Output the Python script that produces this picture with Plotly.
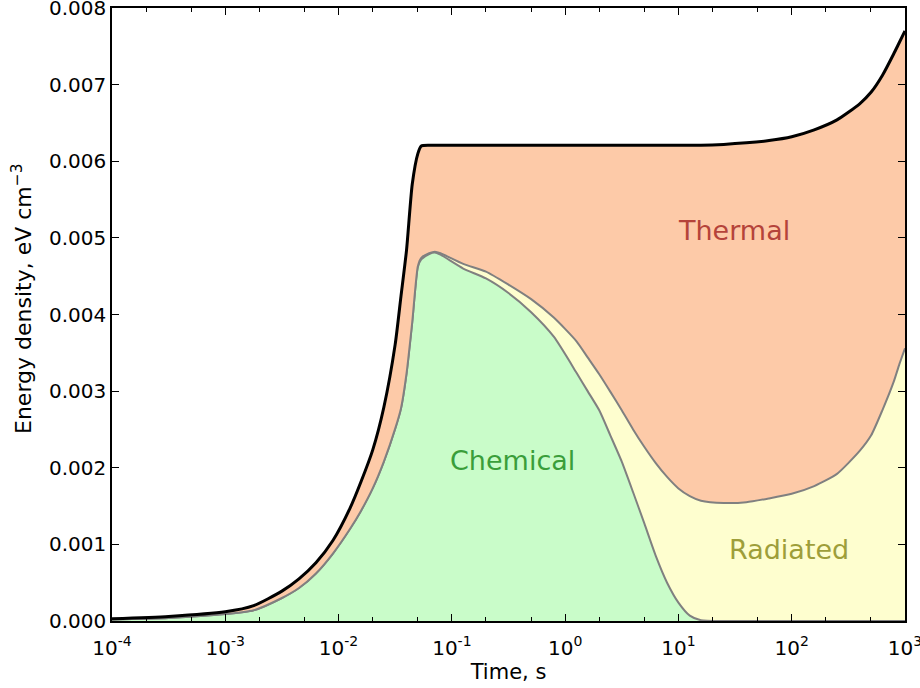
import math
import plotly.graph_objects as go

# time (s)
time_s = [1.0e-4, 3.16e-4, 1.0e-3, 1.78e-3, 3.16e-3, 4.47e-3, 6.31e-3, 8.91e-3,
          0.0126, 0.0158, 0.0200, 0.0251, 0.0316, 0.0355, 0.0398, 0.0447,
          0.0501, 0.0537, 0.0631, 0.0708, 0.0794, 0.126, 0.200, 0.316,
          0.501, 0.794, 1.26, 1.58, 2.00, 2.51, 3.16, 3.98, 5.01, 6.31,
          7.94, 10.0, 12.6, 15.8, 25.1, 39.8, 63.1, 100.0,
          158.0, 251.0, 398.0, 501.0, 631.0, 794.0, 891.0, 1000.0]

chemical = [0.00002, 0.00004, 0.00009, 0.00014, 0.00030, 0.00043, 0.00062, 0.00088,
            0.00120, 0.00144, 0.00173, 0.00208, 0.00251, 0.00277, 0.00323, 0.00390,
            0.00462, 0.00472, 0.00479, 0.00481, 0.00478, 0.00460, 0.00447, 0.00428,
            0.00403, 0.00371, 0.00324, 0.00300, 0.00275, 0.00242, 0.00208, 0.00168, 0.00127, 0.00085,
            0.00050, 0.00024, 0.00007, 0.00001, 0.0, 0.0, 0.0, 0.0,
            0.0, 0.0, 0.0, 0.0, 0.0, 0.0, 0.0, 0.0]

radiated = [0.0, 0.0, 0.0, 0.0, 0.0, 0.0, 0.0, 0.0,
            0.0, 0.0, 0.0, 0.0, 0.0, 0.0, 0.0, 0.0,
            0.00001, 0.00002, 0.00001, 0.00001, 0.00002, 0.00006, 0.00009, 0.00011,
            0.00017, 0.00025, 0.00041, 0.00044, 0.00047, 0.00057, 0.00067, 0.00082, 0.00100, 0.00121,
            0.00138, 0.00149, 0.00156, 0.00156, 0.00154, 0.00155, 0.00160, 0.00166,
            0.00176, 0.00192, 0.00222, 0.00242, 0.00275, 0.00312, 0.00335, 0.00356]

thermal = [0.00001, 0.00002, 0.00003, 0.00006, 0.00009, 0.00012, 0.00014, 0.00017,
           0.00027, 0.00038, 0.00050, 0.00071, 0.00110, 0.00146, 0.00161, 0.00180,
           0.00147, 0.00146, 0.00141, 0.00139, 0.00141, 0.00155, 0.00165, 0.00182,
           0.00201, 0.00225, 0.00256, 0.00277, 0.00299, 0.00322, 0.00346, 0.00371, 0.00394, 0.00415,
           0.00433, 0.00448, 0.00458, 0.00464, 0.00468, 0.00469, 0.00467, 0.00466,
           0.00465, 0.00462, 0.00453, 0.00448, 0.00437, 0.00428, 0.00420, 0.00414]

x_tickvals = [1e-4, 1e-3, 1e-2, 1e-1, 1e0, 1e1, 1e2, 1e3]
x_ticktext = ["10<sup>-4</sup>", "10<sup>-3</sup>", "10<sup>-2</sup>", "10<sup>-1</sup>",
              "10<sup>0</sup>", "10<sup>1</sup>", "10<sup>2</sup>", "10<sup>3</sup>"]
y_tickvals = [0.000, 0.001, 0.002, 0.003, 0.004, 0.005, 0.006, 0.007, 0.008]

labels = ["Thermal", "Chemical", "Radiated"]
label_x = [31.0, 0.34, 94.0]
label_y = [0.0051, 0.0021, 0.00093]
label_colors = ["#b5433a", "#3a9e3a", "#9e9e3a"]

FONT = "DejaVu Sans"

fig = go.Figure()
fig.add_trace(go.Scatter(x=time_s, y=chemical, stackgroup="e", mode="lines",
                         line=dict(color="#808080", width=2, shape="spline", smoothing=0.6),
                         fillcolor="#c9fcc9", name="Chemical"))
fig.add_trace(go.Scatter(x=time_s, y=radiated, stackgroup="e", mode="lines",
                         line=dict(color="#808080", width=2, shape="spline", smoothing=0.6),
                         fillcolor="#fefecf", name="Radiated"))
fig.add_trace(go.Scatter(x=time_s, y=thermal, stackgroup="e", mode="lines",
                         line=dict(color="black", width=3, shape="spline", smoothing=0.6),
                         fillcolor="#fdcaa8", name="Thermal"))

for t, lx, ly, c in zip(labels, label_x, label_y, label_colors):
    fig.add_annotation(x=math.log10(lx), y=ly, text=t, showarrow=False,
                       font=dict(family=FONT, size=27, color=c))

# y-axis title as a rotated annotation (placed like the reference)
fig.add_annotation(xref="paper", yref="paper", x=(22 - 112) / 793, y=(621 - 299) / 613,
                   text="Energy density, eV cm<sup>\u22123</sup>", textangle=-90,
                   showarrow=False, xanchor="center", yanchor="middle",
                   font=dict(family=FONT, size=22, color="black"))

fig.update_layout(
    width=920, height=688,
    margin=dict(l=112, r=15, t=8, b=67),
    paper_bgcolor="white", plot_bgcolor="white",
    showlegend=False,
    font=dict(family=FONT, size=20, color="black"),
)
fig.update_xaxes(type="log", range=[-4, 3], tickvals=x_tickvals, ticktext=x_ticktext,
                 ticks="inside", ticklen=7, tickwidth=1, tickcolor="black",
                 mirror="allticks", showline=True, linecolor="black", linewidth=1.5,
                 showgrid=False, zeroline=False, automargin=False,
                 ticklabeloverflow="allow", ticklabelstandoff=8,
                 minor=dict(ticks="inside", ticklen=4, tickcolor="black", showgrid=False),
                 title=dict(text="Time, s", font=dict(size=21), standoff=3),
                 tickfont=dict(size=20))
fig.update_yaxes(range=[0, 0.008], tickvals=y_tickvals, tickformat=".3f",
                 ticks="inside", ticklen=7, tickwidth=1, tickcolor="black",
                 mirror="allticks", showline=True, linecolor="black", linewidth=1.5,
                 showgrid=False, zeroline=False, automargin=False,
                 ticklabeloverflow="allow",
                 tickfont=dict(size=20))

fig.write_html("out.html", config={"displayModeBar": False},
               post_script="document.body.style.margin='0px';document.body.style.overflow='hidden';")
